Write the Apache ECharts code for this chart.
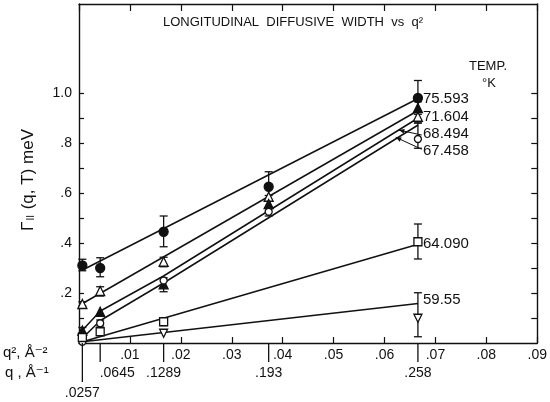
<!DOCTYPE html>
<html>
<head>
<meta charset="utf-8">
<script src="https://cdn.jsdelivr.net/npm/echarts@6/dist/echarts.min.js"></script>
<style>
  html, body { margin: 0; padding: 0; background: #fff; }
  #chart { width: 550px; height: 402px; }
</style>
</head>
<body>
<div id="chart"></div>
<script>
// Measured wavevectors: q² (Å⁻²) and the q (Å⁻¹) they come from
const qSquared = [0.00066, 0.00416, 0.01662, 0.03725, 0.06656];
const qLabels = ['.0257', '.0645', '.1289', '.193', '.258'];

// Axis tick labels
const xTickLabels = ['.01', '.02', '.03', '.04', '.05', '.06', '.07', '.08', '.09'];
const yTickValues = [0.2, 0.4, 0.6, 0.8, 1.0];
const yTickLabels = ['.2', '.4', '.6', '.8', '1.0'];
const yMinorTicks = [0.1, 0.2, 0.3, 0.4, 0.5, 0.6, 0.7, 0.8, 0.9, 1.0];

// Temperatures (°K)
const temps = ['75.593', '71.604', '68.494', '67.458', '64.090', '59.55'];

// Linewidth Γ∥ (meV) at each q², null where not measured
const width75593 = [0.31, 0.30, 0.445, 0.625, 0.98];
const width71604 = [0.156, 0.208, 0.325, 0.585, 0.905];
const width68494 = [0.05, 0.125, 0.235, 0.556, 0.94];
const width67458 = [0.005, 0.079, 0.25, 0.525, 0.816];
const width64090 = [0.022, 0.045, 0.085, null, 0.405];
const width5955 = [null, null, 0.039, null, 0.099];

// Error bars [low, high] in meV, null where none is drawn
const err75593 = [[0.289, 0.335], [0.265, 0.341], [0.385, 0.508], [0.59, 0.685], [0.915, 1.05]];
const err71604 = [[0.148, 0.165], [0.188, 0.225], [0.305, 0.343], null, null];
const err68494 = [[0.04, 0.062], null, [0.205, 0.261], null, [0.88, 0.965]];
const err67458 = [null, [0.068, 0.092], null, [0.508, 0.542], [0.779, 0.88]];
const err64090 = [null, null, [0.07, 0.10], null, [0.336, 0.476]];
const err5955 = [null, null, null, null, [0.025, 0.201]];

// Fitted curves through each temperature's data: [q², Γ] vertices
const fit75593 = [[0.0007, 0.292], [0.0666, 0.978]];
const fit71604 = [[0.0007, 0.158], [0.0666, 0.93]];
const fit68494 = [[0.0007, 0.052], [0.0042, 0.128], [0.0166, 0.268], [0.0666, 0.90]];
const fit67458 = [[0.0007, 0.02], [0.0042, 0.09], [0.0166, 0.24], [0.0666, 0.872]];
const fit64090 = [[0.0007, 0.005], [0.0666, 0.395]];
const fit5955 = [[0.0007, 0.005], [0.0666, 0.158]];

// Points on the 68.494 and 67.458 curves that the leader arrows point at
const leaderTips = [[0.0628, 0.852], [0.0622, 0.823]];

const FONT = '"Liberation Sans", "DejaVu Sans", Arial, sans-serif';
const INK = '#111';

const pairs = (vals) => vals.map((v, i) => v == null ? null : [qSquared[i], v]).filter(Boolean);
const bars = (errs) => errs.map((e, i) => e == null ? null : [qSquared[i], e[0], e[1]]).filter(Boolean);

const seriesDefs = [
  { name: temps[0], vals: width75593, errs: err75593, fit: fit75593, symbol: 'circle', fill: INK, size: 9 },
  { name: temps[1], vals: width71604, errs: err71604, fit: fit71604, symbol: 'triangle', fill: '#fff', size: 9 },
  { name: temps[2], vals: width68494, errs: err68494, fit: fit68494, symbol: 'triangle', fill: INK, size: 9 },
  { name: temps[3], vals: width67458, errs: err67458, fit: fit67458, symbol: 'circle', fill: '#fff', size: 7 },
  { name: temps[4], vals: width64090, errs: err64090, fit: fit64090, symbol: 'rect', fill: '#fff', size: 8 },
  { name: temps[5], vals: width5955, errs: err5955, fit: fit5955, symbol: 'triangle', fill: '#fff', size: 8, rotate: 180 }
];

function errorBarItem(params, api) {
  const x = api.value(0);
  const lo = api.coord([x, api.value(1)]);
  const hi = api.coord([x, api.value(2)]);
  const w = 4;
  const st = { stroke: INK, lineWidth: 1.3 };
  return {
    type: 'group',
    children: [
      { type: 'line', shape: { x1: lo[0], y1: lo[1], x2: hi[0], y2: hi[1] }, style: st },
      { type: 'line', shape: { x1: lo[0] - w, y1: lo[1], x2: lo[0] + w, y2: lo[1] }, style: st },
      { type: 'line', shape: { x1: hi[0] - w, y1: hi[1], x2: hi[0] + w, y2: hi[1] }, style: st }
    ]
  };
}

const series = [];
seriesDefs.forEach((d) => {
  series.push({
    type: 'line', name: d.name + ' fit', data: d.fit, symbol: 'none', silent: true,
    lineStyle: { color: INK, width: 1.5 }, z: 2
  });
  series.push({
    type: 'custom', name: d.name + ' err', data: bars(d.errs), renderItem: errorBarItem,
    clip: false, silent: true, z: 3
  });
  series.push({
    type: 'scatter', name: d.name, data: pairs(d.vals), symbol: d.symbol, symbolSize: d.size,
    symbolRotate: d.rotate || 0,
    itemStyle: { color: d.fill, borderColor: INK, borderWidth: 1.3, opacity: 1 }, z: 4
  });
});

// q markers hanging below the q² axis, with their q values
const qLabelDx = [0, 17, 0, 0, 0];
const qLineLen = [39, 19, 19, 19, 19];
const qLabelDy = [50, 30, 30, 30, 30];
series.push({
  type: 'custom', name: 'q values', clip: false, silent: true, z: 5,
  data: qSquared.map((v, i) => [v, 0, i]),
  renderItem(params, api) {
    const i = api.value(2);
    const p = api.coord([api.value(0), 0]);
    return {
      type: 'group',
      children: [
        { type: 'line', shape: { x1: p[0], y1: p[1], x2: p[0], y2: p[1] + qLineLen[i] }, style: { stroke: INK, lineWidth: 1.3 } },
        { type: 'text', x: p[0] + qLabelDx[i], y: p[1] + qLabelDy[i],
          style: { text: qLabels[i], font: '14px ' + FONT, fill: INK, align: 'center', verticalAlign: 'middle' } }
      ]
    };
  }
});

// Leader arrows from the 68.494 and 67.458 labels to their curves
const leaderTail = [[23, 5], [26, 12]];
series.push({
  type: 'custom', name: 'leaders', clip: false, silent: true, z: 5,
  data: leaderTips.map((t, i) => [t[0], t[1], i]),
  renderItem(params, api) {
    const i = api.value(2);
    const tip = api.coord([api.value(0), api.value(1)]);
    const tail = [tip[0] + leaderTail[i][0], tip[1] + leaderTail[i][1]];
    const ang = Math.atan2(tail[1] - tip[1], tail[0] - tip[0]);
    const L = 6, spread = 0.4;
    const a1 = [tip[0] + L * Math.cos(ang + spread), tip[1] + L * Math.sin(ang + spread)];
    const a2 = [tip[0] + L * Math.cos(ang - spread), tip[1] + L * Math.sin(ang - spread)];
    return {
      type: 'group',
      children: [
        { type: 'line', shape: { x1: tail[0], y1: tail[1], x2: tip[0], y2: tip[1] }, style: { stroke: INK, lineWidth: 1 } },
        { type: 'polygon', shape: { points: [tip, a1, a2] }, style: { fill: INK } }
      ]
    };
  }
});

const tempLabelY = [99, 117, 134, 151, 244, 300];

const axisLineStyle = { show: true, onZero: false, lineStyle: { color: INK, width: 1.4 } };

const chart = echarts.init(document.getElementById('chart'), null, { renderer: 'canvas' });
chart.setOption({
  animation: false,
  backgroundColor: '#fff',
  grid: { left: 79, top: 4, width: 459, height: 339, containLabel: false },
  xAxis: [
    {
      type: 'value', position: 'bottom', min: 0, max: 0.09, interval: 0.01,
      axisLine: axisLineStyle,
      axisTick: { show: true, inside: true, length: 6, lineStyle: { color: INK, width: 1.2 } },
      axisLabel: {
        show: true, margin: 5, color: INK, fontSize: 14, fontFamily: FONT,
        showMinLabel: false, showMaxLabel: true,
        formatter: (v) => { const k = Math.round(v / 0.01); return k >= 1 ? xTickLabels[k - 1] : ''; }
      },
      splitLine: { show: false }
    },
    {
      type: 'value', position: 'top', min: 0, max: 0.09, interval: 0.01,
      axisLine: axisLineStyle,
      axisTick: { show: true, inside: true, length: 7, lineStyle: { color: INK, width: 1.2 } },
      axisLabel: { show: false },
      splitLine: { show: false }
    }
  ],
  yAxis: [
    {
      type: 'value', position: 'left', min: 0, max: 1.356,
      axisLine: axisLineStyle,
      axisTick: {
        show: true, inside: true, length: 5, lineStyle: { color: INK, width: 1.2 },
        customValues: yMinorTicks
      },
      axisLabel: {
        show: true, margin: 7, color: INK, fontSize: 14, fontFamily: FONT,
        customValues: yTickValues,
        formatter: (v) => { const i = yTickValues.findIndex((t) => Math.abs(t - v) < 1e-6); return i >= 0 ? yTickLabels[i] : ''; }
      },
      splitLine: { show: false }
    },
    {
      type: 'value', position: 'right', min: 0, max: 1.356,
      axisLine: axisLineStyle,
      axisTick: {
        show: true, inside: true, length: 6, lineStyle: { color: INK, width: 1.2 },
        customValues: yMinorTicks
      },
      axisLabel: { show: false },
      splitLine: { show: false }
    }
  ],
  graphic: [
    { type: 'text', left: 163, top: 16, style: { text: 'LONGITUDINAL  DIFFUSIVE  WIDTH  vs  q²', font: '13px ' + FONT, fill: INK } },
    { type: 'text', x: 488, y: 66, style: { text: 'TEMP.', font: '13px ' + FONT, fill: INK, align: 'center', verticalAlign: 'middle' } },
    { type: 'text', x: 489, y: 83, style: { text: '°K', font: '13px ' + FONT, fill: INK, align: 'center', verticalAlign: 'middle' } },
    ...temps.map((t, i) => ({
      type: 'text', x: 423, y: tempLabelY[i],
      style: { text: t, font: '15px ' + FONT, fill: INK, align: 'left', verticalAlign: 'middle' }
    })),
    {
      type: 'text', x: 28, y: 180, rotation: Math.PI / 2,
      style: {
        text: 'Γ{s|II} (q, T) meV', font: '17px ' + FONT, fill: INK, align: 'center', verticalAlign: 'middle',
        rich: { s: { fontSize: 10, fontFamily: FONT, fill: INK, verticalAlign: 'bottom', padding: [7, 1, 0, 1] } }
      }
    },
    { type: 'text', x: 3, y: 353, style: { text: 'q², Å⁻²', font: '15px ' + FONT, fill: INK, verticalAlign: 'middle' } },
    { type: 'text', x: 5, y: 373, style: { text: 'q , Å⁻¹', font: '15px ' + FONT, fill: INK, verticalAlign: 'middle' } }
  ],
  series: series.map((s) => Object.assign({ xAxisIndex: 0, yAxisIndex: 0 }, s))
});
</script>
</body>
</html>
